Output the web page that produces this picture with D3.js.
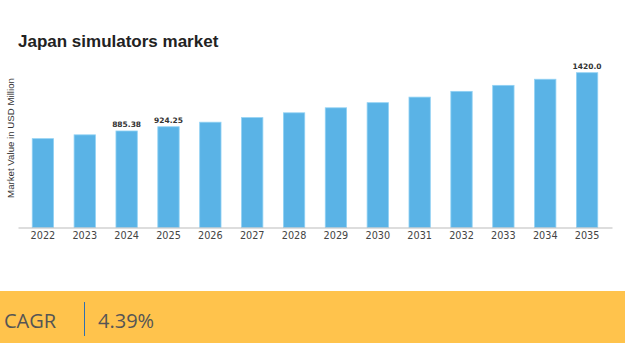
<!doctype html>
<html>
<head>
	<script src="https://cdnjs.cloudflare.com/ajax/libs/d3/7.8.5/d3.min.js"></script>
	<style>
		body { margin: 0; background: #fff; }
		svg { display: block; }
	</style>
</head>
<body>
	<div id="viz">
		<svg style="width:625px;height:343px;"></svg>
	</div>
	<script>

		var years = ["2022", "2023", "2024", "2025", "2026", "2027", "2028", "2029", "2030", "2031", "2032", "2033", "2034", "2035"];
		var values = [815, 850, 885.38, 924.25, 966, 1008, 1052, 1098, 1145, 1196, 1249, 1304, 1360, 1420.0];
		var labelled = {"2024": "885.38", "2025": "924.25", "2035": "1420.0"};
		var cagr = "4.39%";

		var data = years.map((y, i) => ({year: y, value: values[i]}));

		var svg = d3.select("svg");

		var xScale = d3.scaleBand()
			.domain(years)
			.range([18, 612])
			.paddingInner(0.49)
			.paddingOuter(0.34);

		var yScale = d3.scaleLinear()
			.domain([0, 1420])
			.range([227.5, 72.7]);

		// title
		svg.append("text")
			.attr("x", 18)
			.attr("y", 47)
			.style("font-family", "Liberation Sans, Arial, sans-serif")
			.style("font-weight", "bold")
			.style("font-size", "17px")
			.style("fill", "#222")
			.text("Japan simulators market");

		// y label
		svg.append("text")
			.attr("transform", "translate(14,138) rotate(-90)")
			.attr("text-anchor", "middle")
			.style("font-family", "Liberation Sans, Arial, sans-serif")
			.style("font-size", "9.7px")
			.style("fill", "#333")
			.text("Market Value in USD Million");

		// bars
		svg.selectAll("rect.bar")
			.data(data)
			.enter()
			.append("rect")
				.attr("class", "bar")
				.attr("x", d => xScale(d.year))
				.attr("width", xScale.bandwidth())
				.attr("y", d => yScale(d.value))
				.attr("height", d => yScale(0) - yScale(d.value))
				.style("fill", "#5ab3e6")
				.style("stroke", "#92d2f4")
				.style("stroke-width", 0.8);

		// value labels
		svg.selectAll("text.val")
			.data(data.filter(d => labelled[d.year]))
			.enter()
			.append("text")
				.attr("class", "val")
				.attr("x", d => xScale(d.year) + xScale.bandwidth() / 2)
				.attr("y", d => yScale(d.value) - 4)
				.attr("text-anchor", "middle")
				.style("font-family", "DejaVu Sans, sans-serif")
				.style("font-weight", "bold")
				.style("font-size", "7.5px")
				.style("fill", "#333")
				.text(d => labelled[d.year]);

		// x axis
		var xAxis = d3.axisBottom(xScale).tickSize(0).tickPadding(5);
		var xAxisG = svg.append("g")
			.attr("id", "xAxisG")
			.attr("transform", "translate(0," + yScale(0) + ")")
			.call(xAxis);
		xAxisG.select(".domain").attr("stroke", "#bbb").attr("stroke-width", 1.2);
		xAxisG.selectAll("text")
			.style("font-family", "DejaVu Sans, sans-serif")
			.style("font-size", "9.7px")
			.style("fill", "#444");

		// CAGR band
		svg.append("rect")
			.attr("x", 0)
			.attr("y", 291)
			.attr("width", 625)
			.attr("height", 52)
			.style("fill", "#ffc34c");

		svg.append("text")
			.attr("x", 4)
			.attr("y", 328)
			.style("font-family", "Open Sans, sans-serif")
			.style("font-size", "20px")
			.style("fill", "#555")
			.text("CAGR");

		svg.append("line")
			.attr("x1", 84.5).attr("x2", 84.5)
			.attr("y1", 302).attr("y2", 336)
			.style("stroke", "#2f6fb0")
			.style("stroke-width", 1);

		svg.append("text")
			.attr("x", 98)
			.attr("y", 328)
			.style("font-family", "Open Sans, sans-serif")
			.style("font-size", "20px")
			.style("fill", "#555")
			.text(cagr);

	</script>
</body>
</html>
